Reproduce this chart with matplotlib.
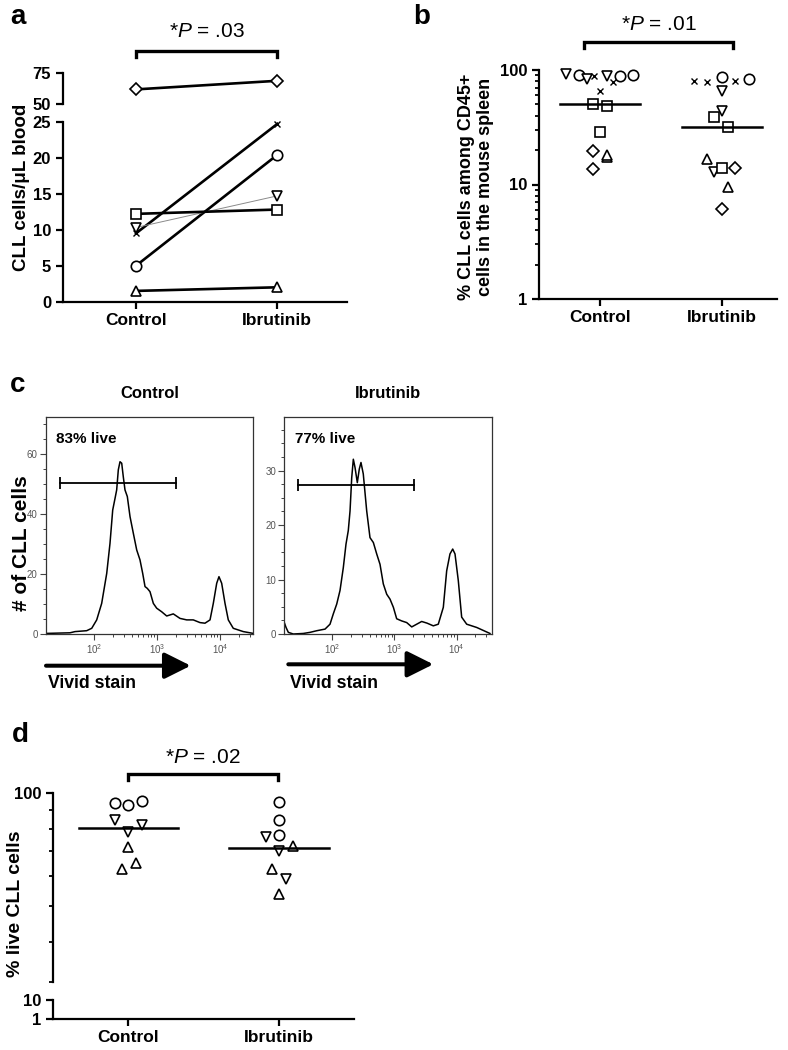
import numpy as np
import matplotlib.pyplot as plt
from matplotlib.lines import Line2D
from matplotlib.patches import FancyArrowPatch
from matplotlib.ticker import FixedLocator, NullFormatter, LogLocator
from matplotlib.transforms import blended_transform_factory

plt.rcParams['font.family'] = ['Liberation Sans', 'DejaVu Sans']
plt.rcParams['font.weight'] = 'bold'
plt.rcParams['mathtext.fontset'] = 'custom'
plt.rcParams['mathtext.rm'] = 'Liberation Sans:weight=normal'
plt.rcParams['mathtext.it'] = 'Liberation Sans:style=italic:weight=normal'
plt.rcParams['axes.linewidth'] = 1.6

W, H = 788, 1050

groups = ['Control', 'Ibrutinib']

# a: CLL cells per uL blood, paired mice
a_markers = ['D', 'x', 'o', 'v', 's', '^']
a_control = [61.8, 9.5, 5.0, 10.3, 12.2, 1.5]
a_ibrutinib = [68.6, 24.7, 20.4, 14.7, 12.8, 2.0]
a_pvalue = '.03'

# b: % CLL cells among CD45+ cells in spleen
b_ctrl_marker = ['v', 'o', 'v', 'x', 'v', 'x', 'o', 'o', 'x', 's', 's', 's', 'D', 'D', '^', '^']
b_ctrl_value = [92.3, 90.4, 83.5, 89.2, 89.2, 79.1, 89.2, 90.4, 66.0, 50.1, 48.8, 28.9, 19.6, 13.7, 17.5, 18.0]
b_ctrl_jitter = [-0.28, -0.17, -0.11, -0.05, 0.055, 0.11, 0.165, 0.27, 0.0, -0.06, 0.055, 0.0, -0.06, -0.06, 0.055, 0.055]
b_ibr_marker = ['x', 'x', 'o', 'x', 'o', 'v', 'v', 's', 's', '^', 'v', 's', 'D', '^', 'D']
b_ibr_value = [80.7, 78.0, 87.5, 80.7, 82.9, 66.0, 44.1, 39.1, 32.0, 16.7, 12.9, 13.8, 13.8, 9.6, 6.1]
b_ibr_jitter = [-0.23, -0.12, 0.0, 0.11, 0.225, 0.0, 0.0, -0.06, 0.055, -0.12, -0.06, 0.0, 0.11, 0.055, 0.0]
b_median = [50.0, 31.6]
b_pvalue = '.01'

# c: Vivid stain histograms (x in log10 units)
c_ctrl_logx = [1.245, 1.614, 1.694, 1.879, 1.959, 2.038, 2.117, 2.197, 2.249, 2.292, 2.329, 2.355,
               2.381, 2.408, 2.435, 2.460, 2.487, 2.524, 2.567, 2.619, 2.673, 2.725, 2.768, 2.805,
               2.841, 2.884, 2.937, 2.990, 3.070, 3.149, 3.254, 3.360, 3.467, 3.571, 3.678, 3.757,
               3.837, 3.889, 3.943, 3.979, 4.022, 4.075, 4.127, 4.206, 4.365, 4.524]
c_ctrl_count = [0.2, 0.4, 0.8, 1.1, 1.9, 4.7, 10.2, 20.2, 30.2, 41.3, 45.2, 48.0,
                54.7, 57.4, 56.9, 52.4, 48.0, 45.8, 39.1, 33.6, 28.0, 24.7, 20.2, 15.8,
                15.2, 14.1, 10.2, 8.6, 7.4, 6.0, 6.7, 5.2, 4.7, 4.7, 3.8, 3.6,
                4.7, 10.2, 16.9, 19.1, 16.9, 10.2, 4.7, 1.9, 0.8, 0.2]
c_ibr_logx = [1.228, 1.256, 1.293, 1.373, 1.534, 1.641, 1.749, 1.883, 1.963, 2.016, 2.071, 2.124,
              2.177, 2.220, 2.257, 2.285, 2.312, 2.338, 2.365, 2.402, 2.434, 2.461, 2.498, 2.553,
              2.606, 2.660, 2.714, 2.767, 2.820, 2.875, 2.928, 2.982, 3.035, 3.116, 3.196, 3.277,
              3.357, 3.437, 3.522, 3.624, 3.704, 3.785, 3.839, 3.892, 3.936, 3.973, 4.026, 4.080,
              4.161, 4.322, 4.535]
c_ibr_count = [2.1, 1.2, 0.3, 0.0, 0.1, 0.3, 0.6, 0.9, 1.8, 3.7, 5.5, 8.0,
               12.2, 16.5, 19.0, 22.6, 28.7, 32.1, 30.6, 27.8, 30.3, 31.5, 29.4, 22.6,
               17.7, 16.8, 14.7, 12.8, 9.2, 7.3, 6.4, 4.9, 2.8, 2.4, 2.1, 1.3,
               1.8, 2.3, 2.0, 1.5, 1.8, 4.9, 11.6, 14.7, 15.6, 14.7, 9.8, 3.1,
               1.8, 1.2, 0.1]
c_ctrl_gate = [1.455, 3.292]
c_ctrl_gate_y = 50.2
c_ibr_gate = [1.453, 3.313]
c_ibr_gate_y = 27.4
c_live = ['83% live', '77% live']

# d: % live CLL cells
d_ctrl_marker = ['o', 'o', 'o', 'v', 'v', 'v', '^', '^', '^']
d_ctrl_value = [94.4, 93.0, 95.5, 84.8, 78.6, 82.1, 71.9, 62.8, 65.2]
d_ctrl_jitter = [-0.09, 0.0, 0.09, -0.09, 0.0, 0.09, 0.0, -0.04, 0.05]
d_ibr_marker = ['o', 'o', 'o', 'v', 'v', 'v', '^', '^', '^']
d_ibr_value = [94.6, 84.6, 77.3, 76.2, 70.0, 59.0, 72.4, 62.5, 53.6]
d_ibr_jitter = [0.0, 0.0, 0.0, -0.09, 0.0, 0.046, 0.09, -0.046, 0.0]
d_median = [80.5, 71.2]
d_pvalue = '.02'

ms = {'o': 7.5, 's': 7, 'D': 6, '^': 7.5, 'v': 7.5, 'x': 4.8}

fig = plt.figure(figsize=(W / 100, H / 100), dpi=100)


def axes_px(x0, y0, x1, y1):
    return fig.add_axes([x0 / W, 1 - y1 / H, (x1 - x0) / W, (y1 - y0) / H])


def ftext(x, y, s, **kw):
    kw.setdefault('ha', 'center')
    kw.setdefault('va', 'center')
    fig.text(x / W, 1 - y / H, s, **kw)


def bracket(ax, x0, x1, y, p, ty):
    tr = blended_transform_factory(ax.transData, fig.transFigure)
    yy = 1 - y / H
    d = 6 / H
    fig.add_artist(Line2D([x0, x0, x1, x1], [yy - d, yy, yy, yy - d], transform=tr,
                          color='k', lw=2.4, solid_joinstyle='miter'))
    fig.text((x0 + x1) / 2, 1 - ty / H, r'*$\mathit{P}$ = ' + p, transform=tr,
             ha='center', va='center', fontsize=15, fontweight='normal')


def point(ax, x, y, m):
    ax.plot(x, y, ls='none', marker=m, ms=ms[m], mfc='white', mec='k',
            mew=1.0 if m == 'x' else 1.2, zorder=3, clip_on=False)


def prism_style(ax):
    for s in ['top', 'right']:
        ax.spines[s].set_visible(False)
    ax.tick_params(direction='out', length=5, width=1.6, labelsize=12)
    ax.tick_params(which='minor', direction='out', length=3, width=1.3)


# ---- panel a ----
ax_a = axes_px(63, 121.7, 347, 301.7)
ax_at = axes_px(63, 72.7, 347, 104.3)
for ax in (ax_a, ax_at):
    prism_style(ax)
    ax.set_xlim(-0.517, 1.493)
ax_a.set_ylim(0, 25)
ax_at.set_ylim(50, 75)
ax_a.set_yticks([0, 5, 10, 15, 20, 25])
ax_at.set_yticks([50, 75])
ax_at.spines['bottom'].set_visible(False)
ax_at.xaxis.set_visible(False)
ax_a.set_xticks([0, 1], groups)
ax_a.tick_params(axis='x', labelsize=12.5, pad=3)
for m, c, i in zip(a_markers, a_control, a_ibrutinib):
    ax = ax_at if c > 25 else ax_a
    thin = m == 'v'
    ax.plot([0, 1], [c, i], color='#8a8a8a' if thin else 'k', lw=0.7 if thin else 1.9,
            zorder=2, clip_on=False)
    point(ax, [0, 1], [c, i], m)
ftext(21.7, 187, 'CLL cells/\u03bcL blood', rotation=90, fontsize=13.5)
ftext(18, 17, 'a', fontsize=20)
bracket(ax_at, 0, 1, 50.7, a_pvalue, 31.7)

# ---- panel b ----
ax_b = axes_px(539, 70, 777, 299)
prism_style(ax_b)
ax_b.set_yscale('log')
ax_b.set_ylim(1, 100)
ax_b.set_xlim(-0.501, 1.454)
ax_b.yaxis.set_major_locator(FixedLocator([1, 10, 100]))
ax_b.set_yticklabels(['1', '10', '100'])
ax_b.yaxis.set_minor_locator(LogLocator(subs=np.arange(2, 10)))
ax_b.yaxis.set_minor_formatter(NullFormatter())
ax_b.set_xticks([0, 1], groups)
ax_b.tick_params(axis='x', labelsize=12.5, pad=3)
for k, (mk, vals, jit) in enumerate([(b_ctrl_marker, b_ctrl_value, b_ctrl_jitter),
                                     (b_ibr_marker, b_ibr_value, b_ibr_jitter)]):
    for m, v, j in zip(mk, vals, jit):
        point(ax_b, k + j, v, m)
    ax_b.plot([k - 0.33, k + 0.33], [b_median[k]] * 2, color='k', lw=1.8, zorder=4)
ftext(476, 187, '% CLL cells among CD45+\ncells in the mouse spleen', rotation=90,
      fontsize=13, linespacing=1.15)
ftext(421.7, 17, 'b', fontsize=20)
bracket(ax_b, -0.13, 1.095, 41.7, b_pvalue, 25)


# ---- panel c ----
def histogram(ax, logx, count, xlim, ylim, major, minor, gate, gate_y, live, title):
    ax.plot(logx, count, color='k', lw=1.1)
    ax.plot(gate, [gate_y] * 2, color='k', lw=1.3, marker='|', ms=9, mew=1.3)
    ax.set_xlim(*xlim)
    ax.set_ylim(*ylim)
    for s in ax.spines.values():
        s.set_linewidth(0.9)
        s.set_color('#333333')
    ax.set_xticks([2, 3, 4], [r'$10^{2}$', r'$10^{3}$', r'$10^{4}$'])
    mx = [d + np.log10(f) for d in (2, 3, 4) for f in range(2, 10)]
    ax.set_xticks([v for v in mx if v < xlim[1]], minor=True)
    ax.set_yticks(major)
    ax.set_yticks(minor, minor=True)
    ax.tick_params(direction='out', length=4, width=0.8, color='#444444',
                   labelsize=7, labelcolor='#555555', pad=2)
    ax.tick_params(which='minor', direction='out', length=2.5, width=0.7, color='#444444')
    for lab in ax.get_xticklabels() + ax.get_yticklabels():
        lab.set_fontweight('normal')
    ax.text(0.05, 0.9, live, transform=ax.transAxes, fontsize=11, va='center')
    ax.set_title(title, fontsize=12, fontweight='bold', pad=14)


ax_c1 = axes_px(46, 417.3, 253.3, 634)
ax_c2 = axes_px(284.3, 417.3, 491.7, 634)
histogram(ax_c1, c_ctrl_logx, c_ctrl_count, (1.233, 4.524), (0, 72.2),
          [0, 20, 40, 60], np.arange(5, 72, 5), c_ctrl_gate, c_ctrl_gate_y, c_live[0], groups[0])
histogram(ax_c2, c_ibr_logx, c_ibr_count, (1.228, 4.563), (0, 39.8),
          [0, 10, 20, 30], np.arange(2.5, 39.8, 2.5), c_ibr_gate, c_ibr_gate_y, c_live[1], groups[1])
ftext(22, 543.5, '# of CLL cells', rotation=90, fontsize=15)
ftext(18, 385, 'c', fontsize=20)
for x0, x1, y in [(46, 190.7, 665.7), (288.3, 433.3, 664.3)]:
    fig.add_artist(FancyArrowPatch((x0 / W, 1 - y / H), (x1 / W, 1 - y / H),
                                   transform=fig.transFigure, arrowstyle='-|>,head_length=0.8,head_width=0.4',
                                   mutation_scale=20, lw=2.9, color='k', shrinkA=0, shrinkB=0))
    ftext(x0 + 2, 683.3, 'Vivid stain', ha='left', fontsize=12.7)

# ---- panel d ----
ax_d = axes_px(53, 793.3, 354, 982)
ax_d2 = axes_px(53, 1000, 354, 1019)
for ax in (ax_d, ax_d2):
    prism_style(ax)
    ax.set_yscale('log')
    ax.set_xlim(-0.499, 1.495)
    ax.yaxis.set_minor_formatter(NullFormatter())
ax_d.set_ylim(31.2, 100)
ax_d.yaxis.set_major_locator(FixedLocator([100]))
ax_d.set_yticklabels(['100'])
ax_d.yaxis.set_minor_locator(FixedLocator([31.2, 40, 50, 60, 70, 80, 90]))
ax_d.spines['bottom'].set_visible(False)
ax_d.xaxis.set_visible(False)
ax_d2.set_ylim(1, 10)
ax_d2.yaxis.set_major_locator(FixedLocator([1, 10]))
ax_d2.set_yticklabels(['1', '10'])
ax_d2.yaxis.set_minor_locator(FixedLocator([]))
ax_d2.set_xticks([0, 1], groups)
ax_d2.tick_params(axis='x', labelsize=12.5, pad=3)
for k, (mk, vals, jit) in enumerate([(d_ctrl_marker, d_ctrl_value, d_ctrl_jitter),
                                     (d_ibr_marker, d_ibr_value, d_ibr_jitter)]):
    for m, v, j in zip(mk, vals, jit):
        point(ax_d, k + j, v, m)
    ax_d.plot([k - 0.33, k + 0.33], [d_median[k]] * 2, color='k', lw=1.8, zorder=4)
ftext(16, 904, '% live CLL cells', rotation=90, fontsize=14)
ftext(20, 735, 'd', fontsize=20)
bracket(ax_d, 0, 0.99, 774.3, d_pvalue, 757.3)

fig.savefig('out.png', dpi=100)
